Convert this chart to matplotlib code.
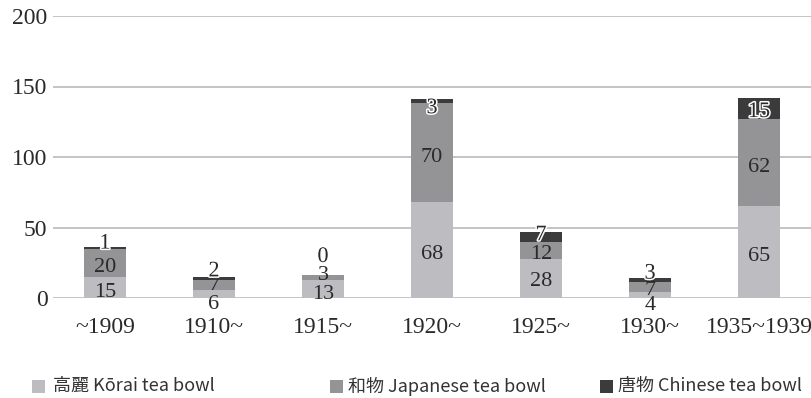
import matplotlib
matplotlib.use("Agg")
import matplotlib.pyplot as plt
import matplotlib.patheffects as pe
from matplotlib import font_manager
from matplotlib.patches import Rectangle
import numpy as np

categories = ["~1909", "1910~", "1915~", "1920~", "1925~", "1930~", "1935~1939"]
korai = [15, 6, 13, 68, 28, 4, 65]
japanese = [20, 7, 3, 70, 12, 7, 62]
chinese = [1, 2, 0, 3, 7, 3, 15]
series_names = ["高麗 Kōrai tea bowl", "和物 Japanese tea bowl", "唐物 Chinese tea bowl"]
yticks = [0, 50, 100, 150, 200]

colors = ["#bdbdc1", "#949497", "#3b3b3b"]
# label nudges relative to segment centre (value units), layout only
nudges = [
    [-1.8, -5.6, -2.0, -1.2, -0.8, -5.3, -1.3],
    [-1.6, 0.9, 3.0, -1.6, -1.2, -0.6, -1.7],
    [4.5, 6.3, 14.5, -3.5, 2.4, 6.2, -1.2],
]
# legend entry positions in pixels (square left, text left)
legend_square_x = [31.5, 330, 599.5]
legend_text_x = [53, 348, 618]

W, H = 811, 398
names = {f.name for f in font_manager.fontManager.ttflist}
serif = [n for n in ["Liberation Serif", "DejaVu Serif"] if n in names] or ["serif"]

fig = plt.figure(figsize=(W / 100, H / 100), dpi=100)
ax = fig.add_axes([53 / W, (H - 298) / H, (W - 53) / W, (298 - 16) / H])

x = np.arange(len(categories))
data = [korai, japanese, chinese]
bottom = np.zeros(len(categories))
for i, vals in enumerate(data):
    vals = np.array(vals, dtype=float)
    ax.bar(x, vals, width=0.385, bottom=bottom, color=colors[i], zorder=3,
           label=series_names[i])
    for j, v in enumerate(vals):
        yc = bottom[j] + v / 2 + nudges[i][j]
        kw = {}
        if i == 2:
            kw["path_effects"] = [pe.withStroke(linewidth=2.2, foreground="white")]
        ax.text(x[j], yc, f"{int(v)}", ha="center", va="center_baseline",
                fontsize=16, family=serif, color="#2a2a2a", zorder=5, **kw)
    bottom += vals

ax.set_xlim((53 - 105) / 109, (W - 105) / 109)
ax.set_ylim(0, 200)
ax.set_yticks(yticks)
ax.set_xticks(x)
ax.set_xticklabels(categories)
ax.yaxis.grid(True, color="#b4b4b4", linewidth=1.1, zorder=0)
ax.set_axisbelow(True)
for s in ax.spines.values():
    s.set_visible(False)
ax.tick_params(axis="both", length=0, labelsize=17, colors="#2a2a2a")
ax.tick_params(axis="x", pad=14)
ax.tick_params(axis="y", pad=4)
for lab in ax.get_xticklabels() + ax.get_yticklabels():
    lab.set_family(serif)

# legend
ly = 386
sq = 13
for i, name in enumerate(series_names):
    fig.patches.append(Rectangle((legend_square_x[i] / W, (H - ly - sq / 2) / H),
                                 sq / W, sq / H, transform=fig.transFigure,
                                 facecolor=colors[i], edgecolor="none"))
    fig.text(legend_text_x[i] / W, (H - ly) / H, name, ha="left", va="center",
             fontsize=13, family=["Noto Sans CJK JP", "DejaVu Sans"], color="#333333")

fig.savefig("out.png", dpi=100)
